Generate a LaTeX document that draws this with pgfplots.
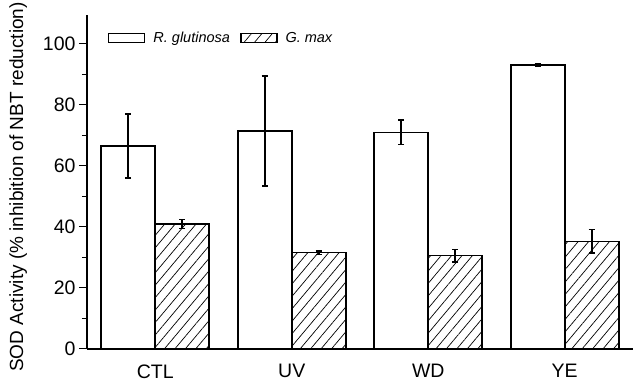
\documentclass[border=0pt]{standalone}
\usepackage{pgfplots}
\pgfplotsset{compat=1.18}
\usepackage{fontspec}
\setmainfont{Liberation Sans}
\usetikzlibrary{patterns.meta}
\pgfplotstableread{
x rg rgerr gm gmerr
0 66.5 10.5 41.0 1.5
1 71.5 18.0 31.6 0.6
2 71.0 4.0 30.6 2.0
3 93.2 0.4 35.3 3.9
}\datatable
\begin{document}
\begin{tikzpicture}
\begin{axis}[
  at={(0pt,0pt)}, anchor=south west,
  scale only axis,
  width=546pt, height=334pt,
  ybar=0pt, bar width=54pt,
  xmin=-0.5, xmax=3.5, ymin=0, ymax=109.5,
  axis x line=bottom, axis y line=left,
  axis line style={-, line width=1.5pt},
  xtick=data, xticklabels={CTL,UV,WD,YE},
  x tick style={draw=none},
  xticklabel style={yshift=-4pt},
  ytick={0,20,40,60,80,100},
  minor ytick={10,30,50,70,90},
  y tick style={line width=1pt, black},
  major tick length=8pt, minor tick length=5pt,
  tick align=outside,
  ticklabel style={font=\fontsize{19.5}{22}\selectfont},
  /pgf/number format/assume math mode=true,
  ylabel={SOD Activity (\% inhibition of NBT reduction)},
  ylabel style={font=\fontsize{19}{22}\selectfont, inner sep=0pt,
    at={(axis description cs:-0.1172,0.485)}, anchor=base},
  legend style={at={(0.038,0.955)}, anchor=north west, draw=none, fill=none,
    inner sep=0pt, legend columns=2, font=\fontsize{14.5}{16}\selectfont\itshape,
    /tikz/every odd column/.append style={column sep=6pt},
    /tikz/every even column/.append style={column sep=8pt}},
  legend image code/.code={\draw[#1, line width=1.5pt] (0pt,-4.5pt) rectangle (36pt,4.5pt);},
  error bars/y dir=both, error bars/y explicit,
  error bars/error bar style={line width=1.6pt, black},
  error bars/error mark options={rotate=90, mark size=3pt, line width=1.6pt, black},
]
\addplot[draw=black, line width=1.6pt, fill=white]
  table[x=x, y=rg, y error=rgerr] {\datatable};
\addlegendentry{R. glutinosa}
\addplot[draw=black, line width=1.6pt, pattern={Lines[angle=50, distance=8pt, line width=0.7pt]}]
  table[x=x, y=gm, y error=gmerr] {\datatable};
\addlegendentry{G. max}
\end{axis}
\pgfresetboundingbox
\useasboundingbox (-87pt,-34pt) rectangle (546pt,349pt);
\end{tikzpicture}
\end{document}
